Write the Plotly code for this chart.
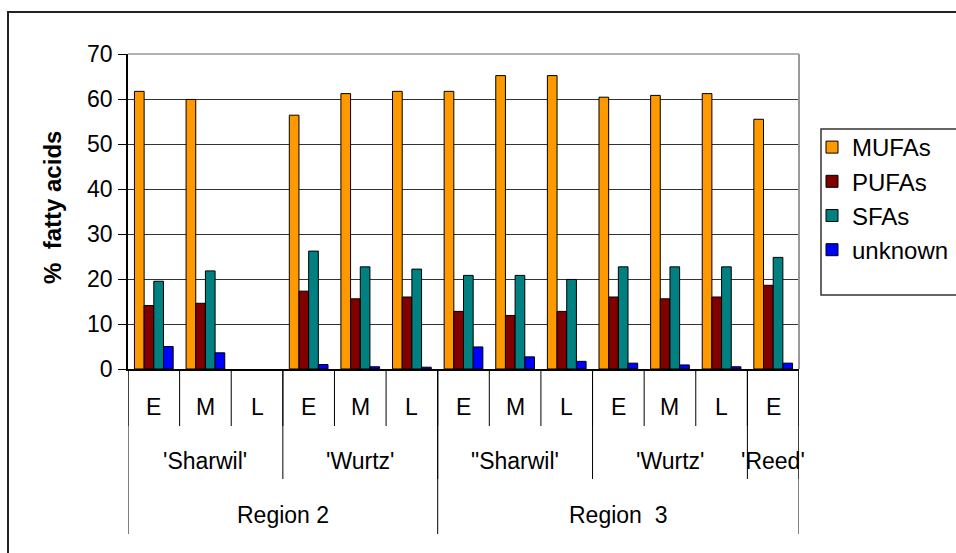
import plotly.graph_objects as go

# Harvest stage per column, grouped by cultivar and by region
stages = ["E", "M", "L", "E", "M", "L", "E", "M", "L", "E", "M", "L", "E"]
cultivars = ["'Sharwil'", "'Wurtz'", "\"Sharwil'", "'Wurtz'", "'Reed'"]
cultivar_sizes = [3, 3, 3, 3, 1]
regions = ["Region 2", "Region\u00a0 3"]
region_sizes = [6, 7]

# Fatty acid composition (% of total fatty acids)
mufa = [61.7, 59.9, None, 56.4, 61.2, 61.7, 61.7, 65.2, 65.2, 60.4, 60.8, 61.2, 55.5]
pufa = [14.1, 14.6, None, 17.3, 15.6, 16.0, 12.8, 11.9, 12.8, 16.0, 15.6, 16.0, 18.6]
sfa = [19.5, 21.8, None, 26.2, 22.7, 22.2, 20.8, 20.8, 19.9, 22.7, 22.7, 22.7, 24.8]
unknown = [5.0, 3.6, None, 1.0, 0.5, 0.4, 4.9, 2.7, 1.7, 1.3, 0.9, 0.5, 1.3]

series = [
    ("MUFAs", mufa, "#FF9900"),
    ("PUFAs", pufa, "#800000"),
    ("SFAs", sfa, "#008080"),
    ("unknown", unknown, "#0000FF"),
]

FONT = "Liberation Sans, Arial, Helvetica, sans-serif"
FS = 23
LEG_FS = 24

W, H = 956, 553
ML, MR, MT, MB = 128, 157, 54, 184
PW, PH = W - ML - MR, H - MT - MB


def px(x):
    return (x - ML) / PW


def py(y):
    return (H - MB - y) / PH


x_idx = list(range(len(stages)))

fig = go.Figure()
for name, vals, color in series:
    fig.add_trace(go.Bar(
        x=x_idx, y=vals, name=name,
        marker=dict(color=color, line=dict(color="black", width=1)),
    ))

shapes = []
annotations = []
txt = dict(family=FONT, size=FS, color="black")

# Category boundaries: stage level, cultivar level, region level
row1_bottom, row2_bottom, row3_bottom = py(426), py(479), py(534)
for b in range(len(stages) + 1):
    shapes.append(dict(type="line", xref="x", yref="paper", x0=b - 0.5, x1=b - 0.5,
                       y0=0, y1=row1_bottom, line=dict(color="black", width=1)))
pos = 0
for size in cultivar_sizes:
    pos += size
    shapes.append(dict(type="line", xref="x", yref="paper", x0=pos - 0.5, x1=pos - 0.5,
                       y0=0, y1=row2_bottom, line=dict(color="black", width=1)))
edges = [0]
for size in region_sizes:
    edges.append(edges[-1] + size)
for e in edges:
    shapes.append(dict(type="line", xref="x", yref="paper", x0=e - 0.5, x1=e - 0.5,
                       y0=0, y1=row3_bottom, line=dict(color="black", width=1)))

for i, s in enumerate(stages):
    annotations.append(dict(x=i, y=py(407), xref="x", yref="paper", text=s,
                            xanchor="center", yanchor="middle", showarrow=False, font=txt))
pos = 0
for name, size in zip(cultivars, cultivar_sizes):
    annotations.append(dict(x=pos + (size - 1) / 2, y=py(461), xref="x", yref="paper",
                            text=name, xanchor="center", yanchor="middle",
                            showarrow=False, font=txt))
    pos += size
pos = 0
for name, size in zip(regions, region_sizes):
    annotations.append(dict(x=pos + (size - 1) / 2, y=py(515), xref="x", yref="paper",
                            text=name, xanchor="center", yanchor="middle",
                            showarrow=False, font=txt))
    pos += size

# y-axis title
annotations.append(dict(x=px(52), y=py(208), xref="paper", yref="paper",
                        xanchor="center", yanchor="middle",
                        text="<b>%\u00a0 fatty acids</b>", textangle=-90, showarrow=False,
                        font=dict(family=FONT, size=24, color="black")))

# plot-area border (top and right edges)
shapes.append(dict(type="line", xref="paper", yref="paper", x0=1, x1=1, y0=0, y1=1,
                   line=dict(color="#9a9a9a", width=2)))
shapes.append(dict(type="line", xref="paper", yref="paper", x0=0, x1=1, y0=1, y1=1,
                   line=dict(color="#9a9a9a", width=1.5)))
# legend frame
shapes.append(dict(type="rect", xref="paper", yref="paper", x0=px(821), x1=px(1000),
                   y0=py(295), y1=py(129), line=dict(color="#333333", width=1.5)))
# chart frame
shapes.append(dict(type="rect", xref="paper", yref="paper", x0=px(8), x1=px(1100),
                   y0=py(12), y1=py(700), line=dict(color="#222222", width=2)))

fig.update_layout(
    width=W, height=H,
    margin=dict(l=ML, r=MR, t=MT, b=MB, pad=0, autoexpand=False),
    paper_bgcolor="white", plot_bgcolor="white",
    barmode="group", bargap=0.25, bargroupgap=0,
    font=dict(family=FONT, size=FS, color="black"),
    showlegend=True,
    legend=dict(x=px(812), y=py(125), xanchor="left", yanchor="top",
                bgcolor="rgba(0,0,0,0)", borderwidth=0,
                font=dict(family=FONT, size=LEG_FS, color="black"),
                itemclick=False),
    shapes=shapes, annotations=annotations,
)
fig.update_xaxes(range=[-0.5, len(stages) - 0.5], showticklabels=False, ticks="",
                 showgrid=False, zeroline=False, showline=True,
                 linecolor="black", linewidth=1.5)
fig.update_yaxes(range=[0, 70], dtick=10, tick0=0, ticks="outside", ticklen=8,
                 tickcolor="black", tickwidth=1, showline=True, linecolor="black",
                 linewidth=1.5, showgrid=True, gridcolor="#333333", gridwidth=1,
                 zeroline=False, ticklabelstandoff=1,
                 tickfont=txt)

fig.write_html("out.html")
